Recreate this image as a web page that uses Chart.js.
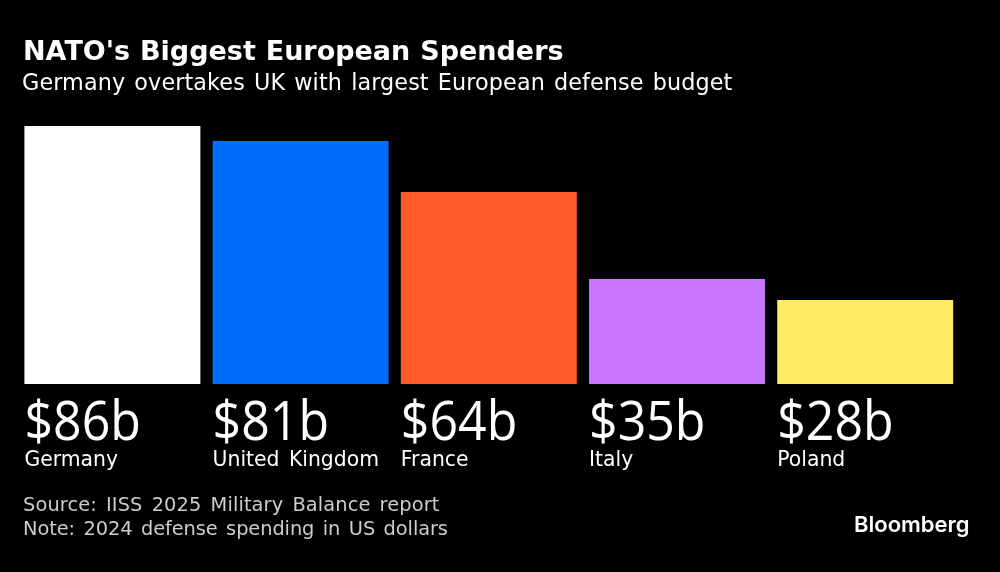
<!DOCTYPE html>
<html><head><meta charset="utf-8">
<style>html,body{margin:0;padding:0;background:#000;overflow:hidden}#w{position:relative;width:1000px;height:572px}canvas{display:block}</style>
<script src="https://cdn.jsdelivr.net/npm/chart.js@4"></script></head>
<body><div id="w"><canvas id="c" width="1000" height="572"></canvas></div>
<script>
const categories=["Germany","United Kingdom","France","Italy","Poland"];
const values=[86,81,64,35,28];
const valueLabels=["$86b","$81b","$64b","$35b","$28b"];
const barColors=["#ffffff","#006dff","#ff5c29","#c775ff","#ffeb66"];
const titleText="NATO's Biggest European Spenders";
const subtitleText="Germany overtakes UK with largest European defense budget";
const footerLines=["Source: IISS 2025 Military Balance report","Note: 2024 defense spending in US dollars"];
const brand="Bloomberg";
function put(ctx,t,x,y,font,color,o){o=o||{};ctx.save();ctx.font=font;ctx.fillStyle=color;ctx.letterSpacing=o.ls||"0px";ctx.wordSpacing=o.ws||"0px";ctx.textAlign="left";ctx.textBaseline="alphabetic";ctx.translate(x,y);ctx.scale(o.sx||1,1);ctx.fillText(t,0,0);ctx.restore();}
const textPlugin={id:"texts",afterDraw(chart){
  const ctx=chart.ctx;ctx.save();
  put(ctx,titleText,23,60,"bold 27px 'DejaVu Sans'","#fff",{ws:"0.5px"});
  put(ctx,subtitleText,22,90,"23px 'DejaVu Sans'","#fff",{sx:.97,ws:"2px",ls:"0.1px"});
  chart.getDatasetMeta(0).data.forEach((b,i)=>{
    const x=b.x-b.width/2;
    put(ctx,valueLabels[i],x,440,"55px 'Open Sans'","#fff",{sx:.91});
    put(ctx,categories[i],x,466,"21px 'DejaVu Sans'","#fff",{sx:.97,ws:"3px"});
  });
  put(ctx,footerLines[0],23,511,"20px 'DejaVu Sans'","#ccc",{sx:.97,ws:"3px",ls:"0.1px"});
  put(ctx,footerLines[1],23,535,"20px 'DejaVu Sans'","#ccc",{sx:.97,ws:"2.5px",ls:"-0.1px"});
  put(ctx,brand,854,532,"600 22px 'Inter'","#fff");
  ctx.restore();
}};
new Chart(document.getElementById("c"),{type:"bar",
 data:{labels:categories,datasets:[{data:values,backgroundColor:barColors,borderWidth:0,categoryPercentage:1,barPercentage:0.935}]},
 options:{responsive:false,animation:false,
  layout:{padding:{left:18.3,right:40.7,top:126,bottom:188}},
  plugins:{legend:{display:false},tooltip:{enabled:false}},
  scales:{x:{display:false},y:{display:false,min:0,max:86}}},
 plugins:[textPlugin]});
</script></body></html>
